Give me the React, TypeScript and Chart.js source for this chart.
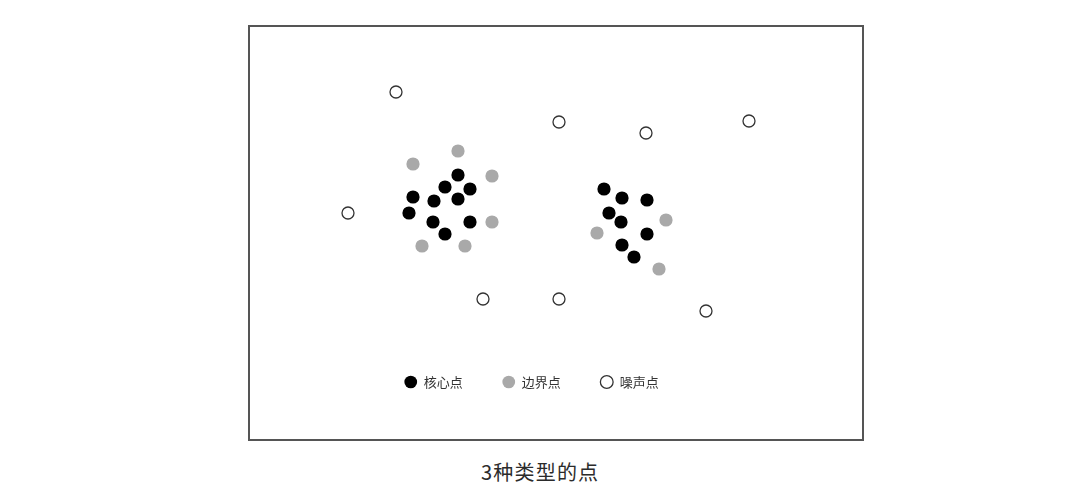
import React, { useEffect, useRef } from "react";
import { Chart, registerables } from "chart.js";

Chart.register(...registerables);

// Point coordinates (arbitrary units; x to the right, y upward)
const coreX = [208, 195, 220, 163, 184, 208, 159, 183, 220, 195, 354, 372, 397, 359, 371, 397, 372, 384];
const coreY = [161, 149, 147, 139, 135, 137, 123, 114, 114, 102, 147, 138, 136, 123, 114, 102, 91, 79];

const borderX = [208, 163, 242, 242, 172, 215, 416, 347, 409];
const borderY = [185, 172, 160, 114, 90, 90, 116, 103, 67];

const noiseX = [146, 98, 309, 396, 499, 309, 456, 233];
const noiseY = [244, 123, 214, 203, 215, 37, 25, 37];

const seriesNames = ["核心点", "边界点", "噪声点"];
const titleText = "3种类型的点";

const xRange = [0, 563];
const yRange = [0, 309];

const toPoints = (xs: number[], ys: number[]) => xs.map((x, i) => ({ x, y: ys[i] }));

export default function App() {
  const canvasRef = useRef<HTMLCanvasElement | null>(null);

  useEffect(() => {
    if (!canvasRef.current) return;
    const font = "'Noto Sans CJK SC', 'Noto Sans', sans-serif";
    const chart = new Chart(canvasRef.current, {
      type: "scatter",
      data: {
        datasets: [
          {
            label: seriesNames[0],
            data: toPoints(coreX, coreY),
            backgroundColor: "#000000",
            borderColor: "#000000",
            borderWidth: 0,
            pointRadius: 6.6,
          },
          {
            label: seriesNames[1],
            data: toPoints(borderX, borderY),
            backgroundColor: "#a9a9a9",
            borderColor: "#a9a9a9",
            borderWidth: 0,
            pointRadius: 6.6,
          },
          {
            label: seriesNames[2],
            data: toPoints(noiseX, noiseY),
            backgroundColor: "#ffffff",
            borderColor: "#333333",
            borderWidth: 1.3,
            pointRadius: 6,
          },
        ],
      },
      options: {
        animation: false,
        responsive: true,
        maintainAspectRatio: false,
        events: [],
        layout: {
          autoPadding: false,
          padding: { left: 0, right: 49, top: 0, bottom: 40.5 },
        },
        scales: {
          x: { type: "linear", display: false, min: xRange[0], max: xRange[1] },
          y: { type: "linear", display: false, min: yRange[0], max: yRange[1] },
        },
        plugins: {
          tooltip: { enabled: false },
          title: { display: false },
          legend: {
            display: true,
            position: "bottom",
            align: "center",
            labels: {
              usePointStyle: true,
              pointStyle: "circle",
              boxWidth: 13,
              boxHeight: 9,
              padding: 39.5,
              color: "#333333",
              font: { family: font, size: 13 },
            },
          },
        },
      },
    });
    return () => chart.destroy();
  }, []);

  return (
    <div style={{ position: "absolute", left: 0, top: 0, width: 1080, height: 497, background: "#ffffff" }}>
      <div
        style={{
          position: "absolute",
          left: 248,
          top: 25,
          width: 616,
          height: 416,
          boxSizing: "border-box",
          border: "2px solid #555555",
        }}
      />
      <div style={{ position: "absolute", left: 250, top: 27, width: 612, height: 412 }}>
        <canvas ref={canvasRef} />
      </div>
      <div
        style={{
          position: "absolute",
          left: 481,
          top: 460,
          height: 24,
          lineHeight: "24px",
          fontSize: 20,
          letterSpacing: 1.2,
          whiteSpace: "nowrap",
          color: "#2b2b2b",
          fontFamily: "'Noto Sans CJK SC', 'Noto Sans', sans-serif",
        }}
      >
        {titleText}
      </div>
    </div>
  );
}
